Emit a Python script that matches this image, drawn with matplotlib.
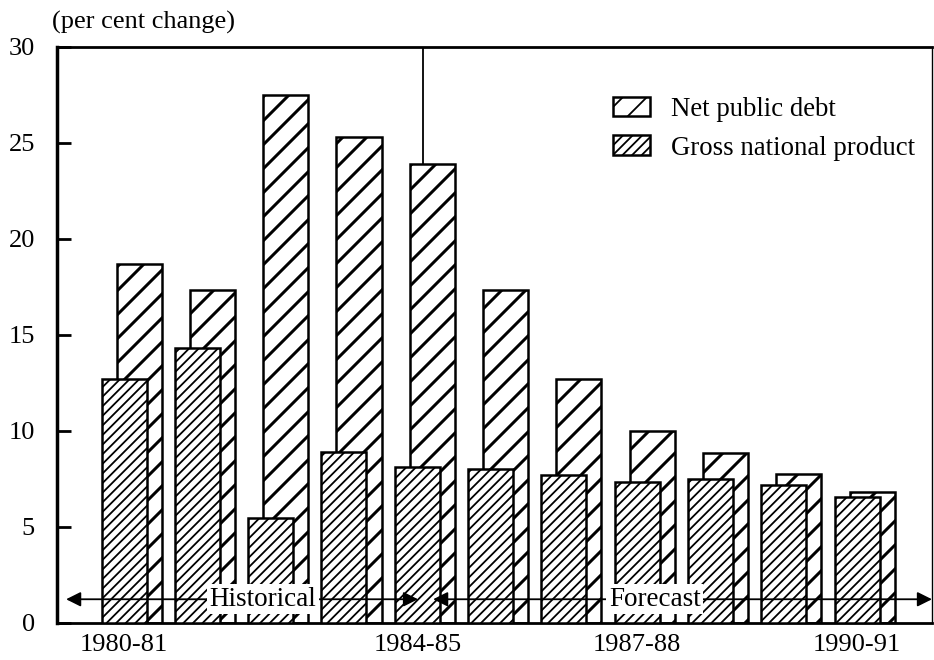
import matplotlib
matplotlib.use("Agg")
import matplotlib.pyplot as plt
import numpy as np

years = ["1980-81", "1981-82", "1982-83", "1983-84", "1984-85", "1985-86",
         "1986-87", "1987-88", "1988-89", "1989-90", "1990-91"]
net_public_debt = [18.7, 17.3, 27.5, 25.3, 23.9, 17.3, 12.7, 10.0, 8.85, 7.75, 6.8]
gnp = [12.7, 14.3, 5.45, 8.9, 8.1, 8.0, 7.7, 7.3, 7.5, 7.15, 6.55]
shown_labels = ["1980-81", "1984-85", "1987-88", "1990-91"]
y_ticks = [0, 5, 10, 15, 20, 25, 30]

DPI = 144
k = 100.0 / DPI  # convert sizes tuned for 100 dpi

plt.rcParams['font.family'] = ['Liberation Serif', 'DejaVu Serif']
plt.rcParams['hatch.linewidth'] = 1.5

fig = plt.figure(figsize=(934.2 / DPI, 660.2 / DPI), dpi=DPI)
ax = fig.add_axes([57/934, 1-622.7/660, (932-57)/934, (622.7-46.7)/660])

x = np.arange(len(years))
w = 0.614
off = 0.205

debt_bars = ax.bar(x + off, net_public_debt, width=w, facecolor='white', edgecolor='black',
                   linewidth=1.25, hatch='//', zorder=2, label='Net public debt')
for b in debt_bars:
    try:
        b.set_hatch_linewidth(1.5)
    except Exception:
        pass
plt.rcParams['hatch.linewidth'] = 0.9
gnp_bars = ax.bar(x, gnp, width=w, facecolor='white', edgecolor='black',
                  linewidth=1.25, hatch='/////', zorder=3, label='Gross national product')
for b in gnp_bars:
    try:
        b.set_hatch_linewidth(0.9)
    except Exception:
        pass

ax.set_xlim(-0.914, 11.023)
ax.set_ylim(0, 30)
ax.set_yticks(y_ticks)
ax.set_yticklabels([str(v) for v in y_ticks])
tick_pos = [years.index(s) for s in shown_labels]
ax.set_xticks(tick_pos)
ax.set_xticklabels(shown_labels)
ax.tick_params(axis='y', direction='in', length=10 * k, width=2 * k, labelsize=19 * k, pad=16 * k)
ax.tick_params(axis='x', length=0, labelsize=19 * k, pad=8 * k)

ax.spines['left'].set_linewidth(2.5 * k)
for s in ['top', 'bottom']:
    ax.spines[s].set_linewidth(2.0 * k)
ax.spines['right'].set_linewidth(1.0 * k)

# divider line between historical and forecast
ax.plot([4.075, 4.075], [net_public_debt[4], 30], color='black', lw=1.3 * k, zorder=4)

# arrows
arrow_y = 1.22
for x0, x1 in [(-0.79, 4.01), (4.216, 11.02)]:
    ax.annotate('', xy=(x0, arrow_y), xytext=(x1, arrow_y),
                arrowprops=dict(arrowstyle='<|-|>', color='black', lw=1.3 * k,
                                mutation_scale=22 * k, shrinkA=0, shrinkB=0), zorder=5,
                annotation_clip=False)
ax.text(1.89, arrow_y, 'Historical', ha='center', va='center', fontsize=19.5 * k, zorder=6,
        bbox=dict(facecolor='white', edgecolor='none', pad=2 * k))
ax.text(7.24, arrow_y, 'Forecast', ha='center', va='center', fontsize=19.5 * k, zorder=6,
        bbox=dict(facecolor='white', edgecolor='none', pad=2 * k))

fig.text(52/934, 1-22/660, '(per cent change)', ha='left', va='center', fontsize=19 * k)

leg = ax.legend(handles=[debt_bars, gnp_bars], loc='upper left',
                bbox_to_anchor=(613/934, 1-97/660), bbox_transform=fig.transFigure,
                frameon=False, fontsize=19.3 * k, handlelength=1.38, handleheight=0.75,
                handletextpad=0.78, labelspacing=0.5, borderpad=0, borderaxespad=0)

fig.savefig('out.png', dpi=DPI)
